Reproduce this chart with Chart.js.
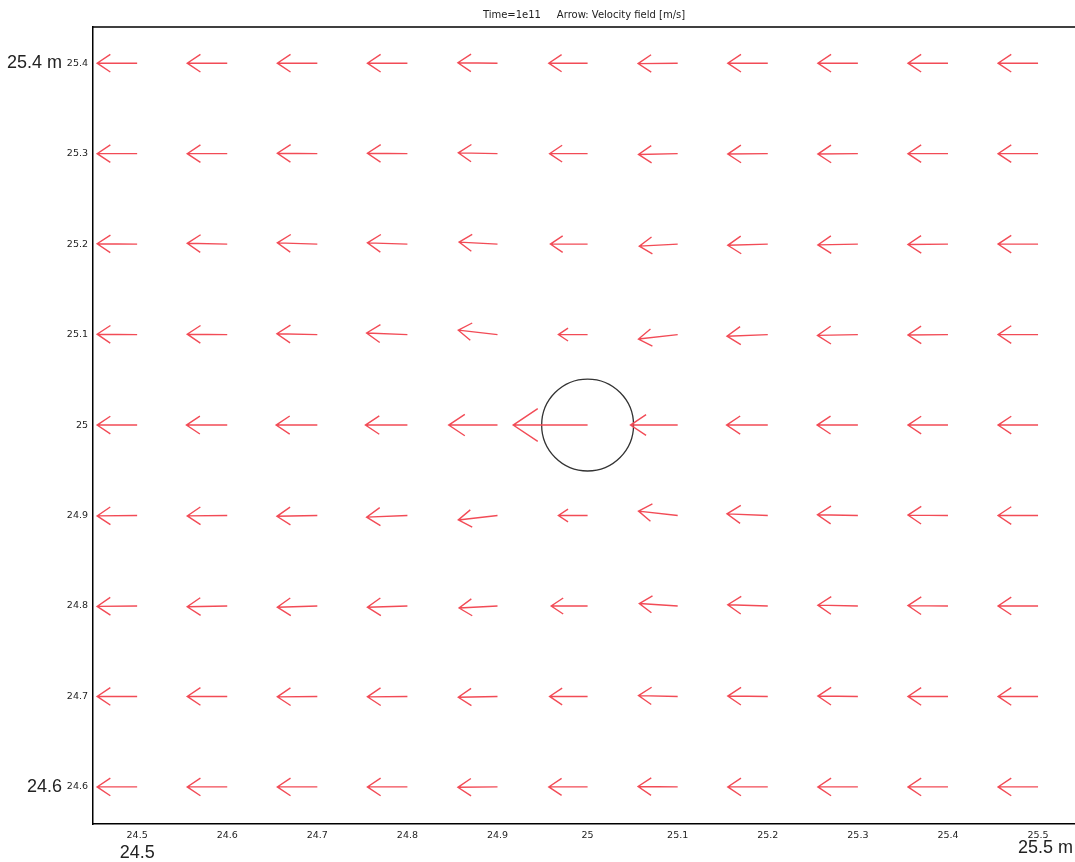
<!DOCTYPE html>
<html>
<head>
<meta charset="utf-8">
<title>Velocity field</title>
<script src="https://cdn.jsdelivr.net/npm/chart.js@4.4.1/dist/chart.umd.min.js"></script>
<style>
  html, body { margin: 0; padding: 0; background: #fff; }
  #wrap { width: 1075px; height: 862px; position: relative; }
</style>
</head>
<body>
<div id="wrap"><canvas id="quiver"></canvas></div>
<script>
// grid of sample points (arrow tails)
const xVals = [24.5, 24.6, 24.7, 24.8, 24.9, 25.0, 25.1, 25.2, 25.3, 25.4, 25.5];
const yVals = [25.4, 25.3, 25.2, 25.1, 25.0, 24.9, 24.8, 24.7, 24.6];

// velocity components [m/s], one row per yVals entry
const uRows = [
  [-1.00, -1.00, -1.00, -1.00, -0.99, -0.97, -0.99, -1.00, -1.00, -1.00, -1.00],
  [-1.00, -1.00, -1.00, -1.00, -0.98, -0.95, -0.98, -1.00, -1.00, -1.00, -1.00],
  [-1.00, -1.00, -1.00, -1.00, -0.96, -0.93, -0.96, -1.00, -1.00, -1.00, -1.00],
  [-1.00, -1.00, -1.01, -1.02, -0.98, -0.73, -0.98, -1.02, -1.01, -1.00, -1.00],
  [-1.00, -1.02, -1.03, -1.05, -1.22, -1.86, -1.18, -1.03, -1.02, -1.00, -1.00],
  [-1.00, -1.00, -1.01, -1.02, -0.98, -0.73, -0.98, -1.02, -1.01, -1.00, -1.00],
  [-1.00, -1.00, -1.00, -1.00, -0.96, -0.91, -0.96, -1.00, -1.00, -1.00, -1.00],
  [-1.00, -1.00, -1.00, -1.00, -0.98, -0.95, -0.98, -1.00, -1.00, -1.00, -1.00],
  [-1.00, -1.00, -1.00, -1.00, -0.99, -0.97, -0.99, -1.00, -1.00, -1.00, -1.00]
];
const vRows = [
  [ 0.00,  0.00,  0.00,  0.00,  0.01,  0.00, -0.01,  0.00,  0.00,  0.00,  0.00],
  [ 0.00,  0.00,  0.01,  0.01,  0.02,  0.00, -0.02, -0.01, -0.01,  0.00,  0.00],
  [ 0.01,  0.02,  0.03,  0.03,  0.05,  0.00, -0.05, -0.03, -0.02, -0.01,  0.00],
  [ 0.01,  0.01,  0.02,  0.04,  0.11,  0.00, -0.11, -0.04, -0.02, -0.01,  0.00],
  [ 0.00,  0.00,  0.00,  0.00,  0.00,  0.00,  0.00,  0.00,  0.00,  0.00,  0.00],
  [-0.01, -0.01, -0.02, -0.04, -0.11,  0.00,  0.11,  0.04,  0.02,  0.01,  0.00],
  [-0.01, -0.02, -0.03, -0.03, -0.05,  0.00,  0.06,  0.03,  0.02,  0.01,  0.00],
  [ 0.00,  0.00, -0.01, -0.01, -0.02,  0.00,  0.02,  0.01,  0.01,  0.00,  0.00],
  [ 0.00,  0.00,  0.00,  0.00, -0.01,  0.00,  0.01,  0.00,  0.00,  0.00,  0.00]
];

const xTicks = [24.5, 24.6, 24.7, 24.8, 24.9, 25.0, 25.1, 25.2, 25.3, 25.4, 25.5];
const yTicks = [24.6, 24.7, 24.8, 24.9, 25.0, 25.1, 25.2, 25.3, 25.4];
const xRange = [24.451, 25.541];
const yRange = [24.559, 25.44];

// obstacle (circle) centre and radius in m
const obstacle = { x: 25.0, y: 25.0, r: 0.051 };

const arrowScale = 0.0444;   // m of plot per 1 m/s
const titleText = 'Time=1e11     Arrow: Velocity field [m/s]';

const points = [];
yVals.forEach((y, i) => {
  xVals.forEach((x, j) => {
    points.push({ x: x, y: y, u: uRows[i][j], v: vRows[i][j] });
  });
});

const fmt = v => String(Math.round(v * 10) / 10);

const quiverPlugin = {
  id: 'quiver',
  afterDatasetsDraw(chart) {
    const { ctx } = chart;
    const xs = chart.scales.x, ys = chart.scales.y;
    ctx.save();

    // obstacle
    const cx = xs.getPixelForValue(obstacle.x), cy = ys.getPixelForValue(obstacle.y);
    const rad = xs.getPixelForValue(obstacle.x + obstacle.r) - cx;
    ctx.strokeStyle = '#333';
    ctx.lineWidth = 1.3;
    ctx.beginPath();
    ctx.arc(cx, cy, rad, 0, Math.PI * 2);
    ctx.stroke();

    // arrows
    ctx.strokeStyle = '#f24b56';
    ctx.lineWidth = 1.4;
    chart.data.datasets[0].data.forEach(p => {
      const x0 = xs.getPixelForValue(p.x), y0 = ys.getPixelForValue(p.y);
      const x1 = xs.getPixelForValue(p.x + p.u * arrowScale);
      const y1 = ys.getPixelForValue(p.y + p.v * arrowScale);
      const dx = x1 - x0, dy = y1 - y0;
      const len = Math.hypot(dx, dy);
      if (!len) return;
      const ux = dx / len, uy = dy / len;
      const hl = len * 0.33, hw = len * 0.22;
      ctx.beginPath();
      ctx.moveTo(x0, y0);
      ctx.lineTo(x1, y1);
      ctx.moveTo(x1 - ux * hl - uy * hw, y1 - uy * hl + ux * hw);
      ctx.lineTo(x1, y1);
      ctx.lineTo(x1 - ux * hl + uy * hw, y1 - uy * hl - ux * hw);
      ctx.stroke();
    });
    ctx.restore();
  },
  afterDraw(chart) {
    const { ctx, chartArea } = chart;
    const xs = chart.scales.x, ys = chart.scales.y;
    ctx.save();
    // top frame line
    ctx.strokeStyle = '#000';
    ctx.lineWidth = 1.5;
    ctx.beginPath();
    ctx.moveTo(chartArea.left, chartArea.top);
    ctx.lineTo(chart.width, chartArea.top);
    ctx.stroke();

    // title
    ctx.fillStyle = '#222';
    ctx.font = '10px "DejaVu Sans"';
    ctx.textAlign = 'center';
    ctx.textBaseline = 'middle';
    ctx.fillText(titleText, 584, 15);

    // range labels
    ctx.font = '18px "Liberation Sans"';
    ctx.textAlign = 'right';
    ctx.fillText(fmt(yTicks[yTicks.length - 1]) + ' m', chartArea.left - 31, ys.getPixelForValue(yTicks[yTicks.length - 1]));
    ctx.fillText(fmt(yTicks[0]), chartArea.left - 31, ys.getPixelForValue(yTicks[0]));
    ctx.textAlign = 'center';
    ctx.fillText(fmt(xTicks[0]), xs.getPixelForValue(xTicks[0]), chartArea.bottom + 29);
    ctx.textAlign = 'right';
    ctx.fillText(fmt(xTicks[xTicks.length - 1]) + ' m', chart.width - 2, chartArea.bottom + 24);
    ctx.restore();
  }
};

const tickFont = { family: 'DejaVu Sans', size: 9.5 };

new Chart(document.getElementById('quiver'), {
  type: 'scatter',
  data: {
    datasets: [{
      label: 'Velocity field',
      data: points,
      pointRadius: 0,
      showLine: false
    }]
  },
  options: {
    responsive: true,
    maintainAspectRatio: false,
    animation: false,
    layout: { padding: { top: 27, right: 0, bottom: 0, left: 0 } },
    plugins: { legend: { display: false }, tooltip: { enabled: false } },
    scales: {
      x: {
        type: 'linear', min: xRange[0], max: xRange[1],
        grid: { display: false, drawTicks: false },
        border: { display: true, color: '#000', width: 1.5 },
        afterBuildTicks: s => { s.ticks = xTicks.map(v => ({ value: v })); },
        afterFit: s => { s.height = 38; },
        ticks: { padding: 6, color: '#222', font: tickFont, autoSkip: false, maxRotation: 0, callback: v => fmt(v) }
      },
      y: {
        type: 'linear', min: yRange[0], max: yRange[1],
        grid: { display: false, drawTicks: false },
        border: { display: true, color: '#000', width: 1.5 },
        afterBuildTicks: s => { s.ticks = yTicks.map(v => ({ value: v })); },
        afterFit: s => { s.width = 93; },
        ticks: { padding: 5, color: '#222', font: tickFont, autoSkip: false, callback: v => fmt(v) }
      }
    }
  },
  plugins: [quiverPlugin]
});
</script>
</body>
</html>
